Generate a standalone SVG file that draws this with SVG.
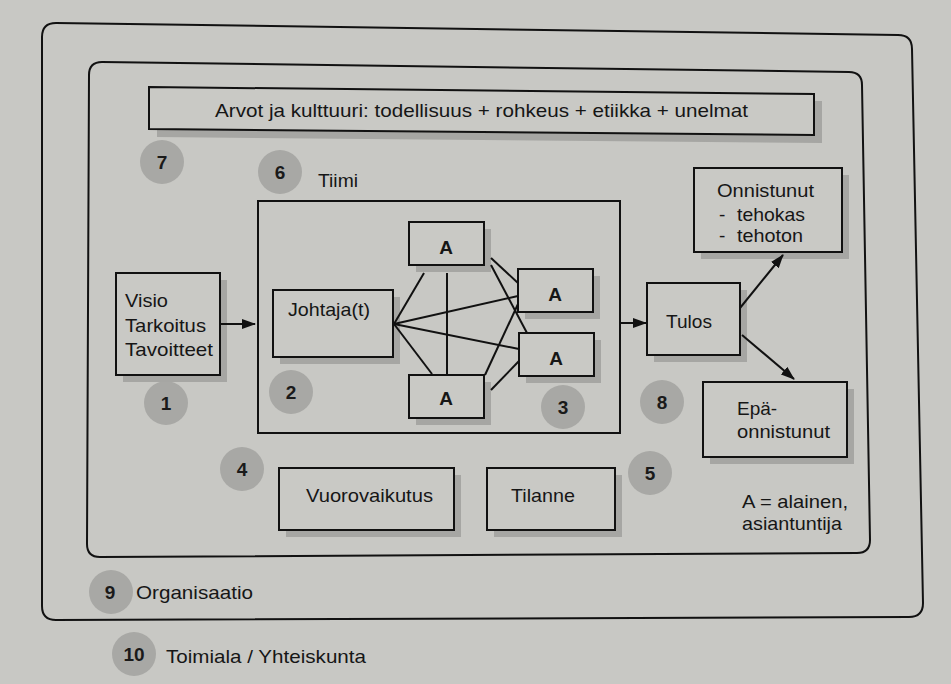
<svg xmlns="http://www.w3.org/2000/svg" width="951" height="684" viewBox="0 0 951 684">
  <defs>
    <marker id="ah" markerUnits="userSpaceOnUse" markerWidth="14" markerHeight="10" refX="13" refY="5" orient="auto">
      <path d="M0,0 L14,5 L0,10 Z" fill="#111"/>
    </marker>
  </defs>
  <style>
    .bg { fill: #c8c8c4; }
    .frame { fill: none; stroke: #111; stroke-width: 2; }
    .box { fill: #c9c9c5; stroke: #111; stroke-width: 2; }
    .sh { fill: #a6a6a3; }
    .t { font-family: "Liberation Sans", Arial, sans-serif; font-size: 19px; fill: #161616; }
    .a { font-family: "Liberation Sans", Arial, sans-serif; font-size: 19px; font-weight: bold; fill: #161616; text-anchor: middle; }
    .c { fill: #a8a8a5; }
    .n { font-family: "Liberation Sans", Arial, sans-serif; font-size: 19px; font-weight: bold; fill: #1a1a1a; text-anchor: middle; }
    .ln { stroke: #111; stroke-width: 2; fill: none; }
  </style>

  <rect class="bg" x="0" y="0" width="951" height="684"/>

  <!-- frames -->
  <g id="organisaatio">
    <path class="frame" d="M42,37 Q42,23 56,23 L898,35 Q912,35 912,49 L923,603 Q923,617 909,617 L56,620 Q42,620 42,606 Z"/>
  </g>
  <g id="ryhma">
    <path class="frame" d="M89,75 Q89,62 102,62 L849,72 Q862,72 862,85 L870,540 Q870,553 857,553 L100,557 Q87,557 87,544 Z"/>
  </g>

  <!-- circles with numbers -->
  <g id="num7"><circle class="c" cx="162" cy="162" r="22"/><text class="n" x="162" y="169">7</text></g>
  <g id="num6"><circle class="c" cx="280" cy="172" r="22"/><text class="n" x="280" y="179">6</text></g>
  <g id="num1"><circle class="c" cx="166" cy="403" r="22"/><text class="n" x="166" y="410">1</text></g>
  <g id="num2"><circle class="c" cx="291" cy="392" r="22"/><text class="n" x="291" y="399">2</text></g>
  <g id="num3"><circle class="c" cx="563" cy="407" r="22"/><text class="n" x="563" y="414">3</text></g>
  <g id="num8"><circle class="c" cx="662" cy="402" r="22"/><text class="n" x="662" y="409">8</text></g>
  <g id="num4"><circle class="c" cx="242" cy="469" r="22"/><text class="n" x="242" y="476">4</text></g>
  <g id="num5"><circle class="c" cx="650" cy="473" r="22"/><text class="n" x="650" y="480">5</text></g>
  <g id="num9"><circle class="c" cx="111" cy="592" r="22"/><text class="n" x="110" y="599">9</text></g>
  <g id="num10"><circle class="c" cx="134" cy="654" r="22"/><text class="n" x="134" y="661">10</text></g>

  <!-- Arvot -->
  <g id="arvot">
    <path class="sh" d="M157,95 L822,101 L822,143 L157,137 Z"/>
    <path class="box" d="M149,87 L814,94 L814,135 L149,129 Z"/>
    <text class="t" x="215" y="117" textLength="533" lengthAdjust="spacingAndGlyphs">Arvot ja kulttuuri: todellisuus + rohkeus + etiikka + unelmat</text>
  </g>

  <g id="tiimi-label"><text class="t" x="318" y="187" textLength="40" lengthAdjust="spacingAndGlyphs">Tiimi</text></g>

  <g id="tiimi">
    <rect class="frame" x="258" y="201" width="362" height="232"/>
  </g>

  <g id="visio">
    <rect class="sh" x="123" y="280" width="104" height="102"/>
    <rect class="box" x="116" y="273" width="104" height="102"/>
    <text class="t" x="125" y="307" textLength="43" lengthAdjust="spacingAndGlyphs">Visio</text>
    <text class="t" x="125" y="332" textLength="81" lengthAdjust="spacingAndGlyphs">Tarkoitus</text>
    <text class="t" x="125" y="356" textLength="88" lengthAdjust="spacingAndGlyphs">Tavoitteet</text>
  </g>

  <g id="johtaja">
    <rect class="sh" x="280" y="297" width="120" height="67"/>
    <rect class="box" x="273" y="290" width="120" height="67"/>
    <text class="t" x="288" y="316" textLength="82" lengthAdjust="spacingAndGlyphs">Johtaja(t)</text>
  </g>

  <g id="a1">
    <rect class="sh" x="416" y="229" width="75" height="43"/>
    <rect class="box" x="409" y="222" width="75" height="43"/>
    <text class="a" x="446" y="254">A</text>
  </g>
  <g id="a2">
    <rect class="sh" x="525" y="276" width="75" height="43"/>
    <rect class="box" x="518" y="269" width="75" height="43"/>
    <text class="a" x="555" y="301">A</text>
  </g>
  <g id="a3">
    <rect class="sh" x="526" y="340" width="75" height="43"/>
    <rect class="box" x="519" y="333" width="75" height="43"/>
    <text class="a" x="556" y="365">A</text>
  </g>
  <g id="a4">
    <rect class="sh" x="416" y="382" width="75" height="43"/>
    <rect class="box" x="409" y="375" width="75" height="43"/>
    <text class="a" x="446" y="405">A</text>
  </g>

  <g id="tulos">
    <rect class="sh" x="654" y="290" width="93" height="72"/>
    <rect class="box" x="647" y="283" width="93" height="72"/>
    <text class="t" x="666" y="328" textLength="46" lengthAdjust="spacingAndGlyphs">Tulos</text>
  </g>

  <g id="onnistunut">
    <rect class="sh" x="701" y="175" width="148" height="84"/>
    <rect class="box" x="694" y="168" width="148" height="84"/>
    <text class="t" x="717" y="197" textLength="97" lengthAdjust="spacingAndGlyphs">Onnistunut</text>
    <text class="t" x="719" y="221">-</text>
    <text class="t" x="737" y="221" textLength="68" lengthAdjust="spacingAndGlyphs">tehokas</text>
    <text class="t" x="719" y="242">-</text>
    <text class="t" x="737" y="242" textLength="66" lengthAdjust="spacingAndGlyphs">tehoton</text>
  </g>

  <g id="epaonnistunut">
    <rect class="sh" x="710" y="389" width="144" height="75"/>
    <rect class="box" x="703" y="382" width="144" height="75"/>
    <text class="t" x="737" y="415">Epä-</text>
    <text class="t" x="737" y="438" textLength="93" lengthAdjust="spacingAndGlyphs">onnistunut</text>
  </g>

  <g id="vuorovaikutus">
    <rect class="sh" x="286" y="475" width="175" height="62"/>
    <rect class="box" x="279" y="468" width="175" height="62"/>
    <text class="t" x="306" y="502" textLength="127" lengthAdjust="spacingAndGlyphs">Vuorovaikutus</text>
  </g>

  <g id="tilanne">
    <rect class="sh" x="494" y="475" width="128" height="62"/>
    <rect class="box" x="487" y="468" width="128" height="62"/>
    <text class="t" x="511" y="502" textLength="64" lengthAdjust="spacingAndGlyphs">Tilanne</text>
  </g>

  <g id="legend">
    <text class="t" x="742" y="508" textLength="106" lengthAdjust="spacingAndGlyphs">A = alainen,</text>
    <text class="t" x="742" y="530" textLength="100" lengthAdjust="spacingAndGlyphs">asiantuntija</text>
  </g>

  <g id="org-label"><text class="t" x="136" y="599" textLength="117" lengthAdjust="spacingAndGlyphs">Organisaatio</text></g>
  <g id="toimiala-label"><text class="t" x="166" y="663" textLength="200" lengthAdjust="spacingAndGlyphs">Toimiala / Yhteiskunta</text></g>

  <!-- connectors -->
  <g id="connectors">
    <line class="ln" x1="221" y1="324" x2="255" y2="324" marker-end="url(#ah)"/>
    <line class="ln" x1="620" y1="323" x2="646" y2="323" marker-end="url(#ah)"/>
    <line class="ln" x1="740" y1="308" x2="783" y2="255" marker-end="url(#ah)"/>
    <line class="ln" x1="742" y1="335" x2="794" y2="379" marker-end="url(#ah)"/>

    <line class="ln" x1="394" y1="324" x2="424" y2="273"/>
    <line class="ln" x1="394" y1="324" x2="518" y2="296"/>
    <line class="ln" x1="394" y1="324" x2="519" y2="349"/>
    <line class="ln" x1="394" y1="324" x2="432" y2="374"/>
    <line class="ln" x1="447" y1="273" x2="447" y2="375"/>
    <line class="ln" x1="491" y1="258" x2="518" y2="283"/>
    <line class="ln" x1="491" y1="265" x2="527" y2="333"/>
    <line class="ln" x1="485" y1="375" x2="518" y2="304"/>
    <line class="ln" x1="491" y1="390" x2="519" y2="361"/>
  </g>
</svg>
